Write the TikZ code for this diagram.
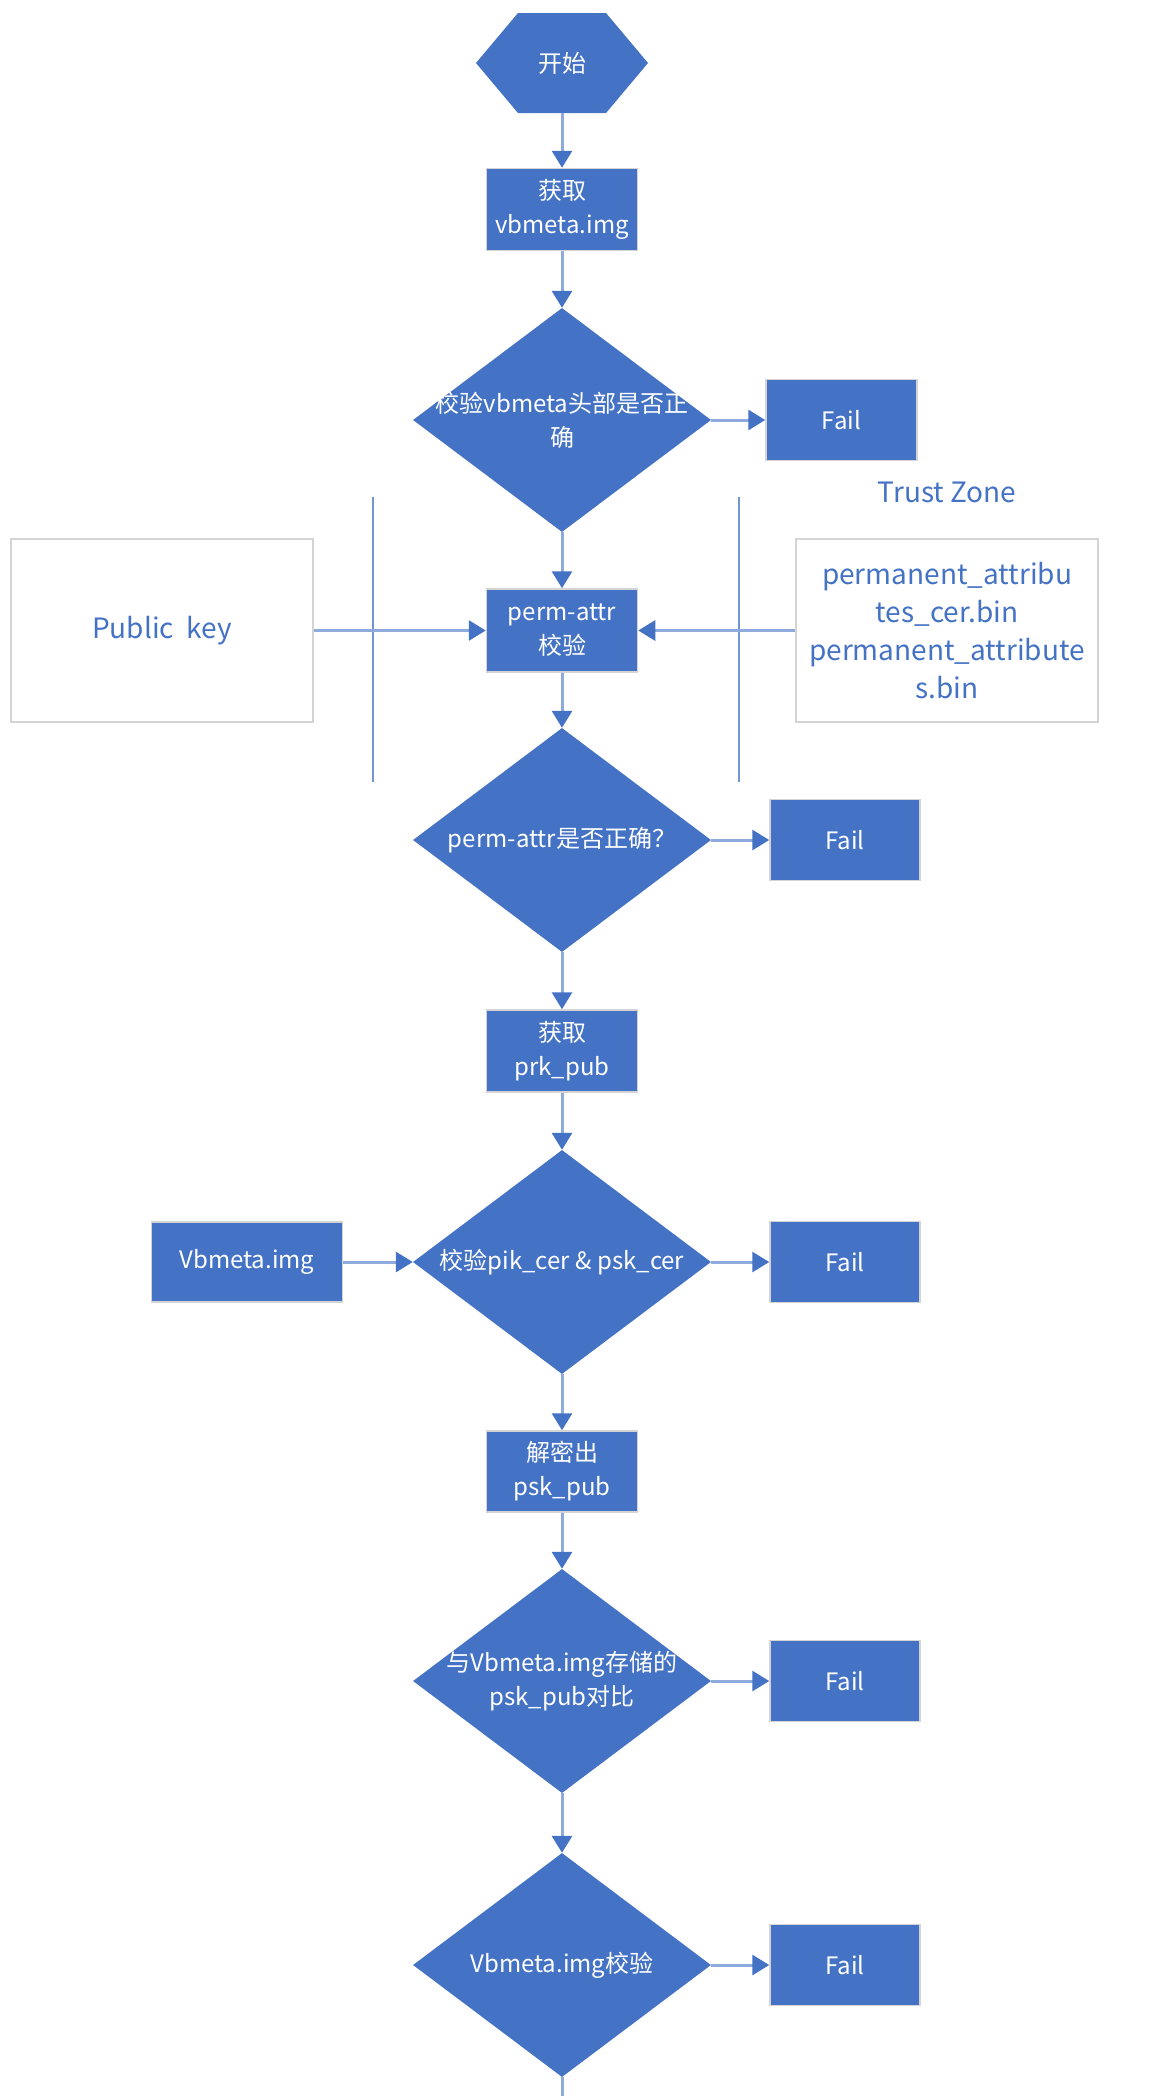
\documentclass[tikz,border=0pt]{standalone}
\usepackage{fontspec}
\setmainfont{Noto Sans CJK SC}
\usepackage{xcolor}
\usetikzlibrary{arrows.meta,calc,positioning,shapes.geometric}
\definecolor{officeblue}{HTML}{4472C4}
\definecolor{linkblue}{HTML}{8FAADC}
\definecolor{edgegray}{HTML}{D4D4D4}
\tikzset{%
	block/.style    = {rectangle, fill=officeblue, draw=edgegray, line width=1.5pt, minimum width=151pt, minimum height=82pt, inner sep=0pt, text=white, align=center, font=\fontsize{24}{34}\selectfont},
	failbox/.style  = {block, minimum width=150pt, minimum height=81pt}, % Fail
	store/.style    = {rectangle, draw=edgegray, line width=2pt, minimum width=302pt, minimum height=183pt, inner sep=0pt, text=officeblue, align=center, font=\fontsize{28}{38}\selectfont}, % white boxes
	note/.style     = {text=officeblue, font=\fontsize{28}{38}\selectfont},
}
\tikzset{%
	startstop/.style= {rectangle, fill=white, minimum width=172pt, minimum height=100pt, inner sep=0pt, text=white, font=\fontsize{24}{34}\selectfont,
		path picture={\fill[officeblue] (path picture bounding box.west) -- ([xshift=42pt]path picture bounding box.north west) -- ([xshift=-42pt]path picture bounding box.north east) -- (path picture bounding box.east) -- ([xshift=-42pt]path picture bounding box.south east) -- ([xshift=42pt]path picture bounding box.south west) -- cycle;}},
	decision/.style = {draw=none, diamond, fill=officeblue, minimum width=298pt, minimum height=224pt, inner sep=0pt},
	dtext/.style    = {text=white, align=center, font=\fontsize{24}{34}\selectfont},
	arrow/.style    = {draw=linkblue, line width=3pt, -{Triangle[length=17pt, width=20pt, color=officeblue]}},
	link/.style     = {draw=linkblue, line width=3pt},
	fence/.style    = {draw=officeblue!75, line width=1.5pt},
}
\begin{document}
\begin{tikzpicture}[x=1pt, y=-1pt]
	\useasboundingbox (0,0) rectangle (1155,2096);
	% main column
	\node[startstop] (start) at (562,63) {开始};
	\node[block, below of=start, node distance=146.5pt] (get1) {获取\\vbmeta.img};
	\node[decision, below of=get1, node distance=210.5pt, label={[dtext]center:校验vbmeta头部是否正\\确}] (dia1) {};
	\node[block, below of=dia1, node distance=210.5pt, minimum height=83pt] (perm) {perm-attr\\校验};
	\node[decision, below of=perm, node distance=209.5pt, label={[dtext]center:perm-attr是否正确？}] (dia2) {};
	\node[block, below of=dia2, node distance=211pt] (get2) {获取\\prk\_pub};
	\node[decision, below of=get2, node distance=211pt, label={[dtext]center:校验pik\_cer \& psk\_cer}] (dia3) {};
	\node[block, below of=dia3, node distance=209.5pt, minimum height=81pt] (dec) {解密出\\psk\_pub};
	\node[decision, below of=dec, node distance=209.5pt, label={[dtext]center:与Vbmeta.img存储的\\psk\_pub对比}] (dia4) {};
	\node[decision, below of=dia4, node distance=284pt, label={[dtext]center:Vbmeta.img校验}] (dia5) {};
	\coordinate (tail) at (562,2096);
	% fail branch
	\node[failbox, right of=dia1, node distance=279.5pt, minimum width=151pt] (fail1) {Fail};
	\node[failbox, right of=dia2, node distance=283pt] (fail2) {Fail};
	\node[failbox, right of=dia3, node distance=283pt] (fail3) {Fail};
	\node[failbox, right of=dia4, node distance=283pt] (fail4) {Fail};
	\node[failbox, right of=dia5, node distance=283pt] (fail5) {Fail};
	% inputs
	\node[store, left of=perm, node distance=400pt] (pub) {Public\ \ key};
	\node[store, right of=perm, node distance=385pt] (attr) {permanent\_attribu\\tes\_cer.bin\\permanent\_attribute\\s.bin};
	\node[note, above of=attr, node distance=138pt] (tz) {Trust Zone};
	\node[block, left of=dia3, node distance=315pt, minimum width=191pt, minimum height=80pt] (vbimg) {Vbmeta.img};
	% trust zone borders
	\coordinate (ltop) at (373,497);
	\coordinate (lbot) at (373,782);
	\coordinate (rtop) at (739,497);
	\coordinate (rbot) at (739,782);
	\draw[fence] (ltop) -- (lbot);
	\draw[fence] (rtop) -- (rbot);
	% connectors
	\draw[arrow] (start) -- (get1);
	\draw[arrow] (get1) -- (dia1);
	\draw[arrow] (dia1) -- (perm);
	\draw[arrow] (pub) -- (perm);
	\draw[arrow] (attr) -- (perm);
	\draw[arrow] (perm) -- (dia2);
	\draw[arrow] (dia2) -- (get2);
	\draw[arrow] (get2) -- (dia3);
	\draw[arrow] (vbimg) -- (dia3);
	\draw[arrow] (dia3) -- (dec);
	\draw[arrow] (dec) -- (dia4);
	\draw[arrow] (dia4) -- (dia5);
	\draw[link] (dia5) -- (tail);
	\draw[arrow] (dia1) -- (fail1);
	\draw[arrow] (dia2) -- (fail2);
	\draw[arrow] (dia3) -- (fail3);
	\draw[arrow] (dia4) -- (fail4);
	\draw[arrow] (dia5) -- (fail5);
\end{tikzpicture}
\end{document}
